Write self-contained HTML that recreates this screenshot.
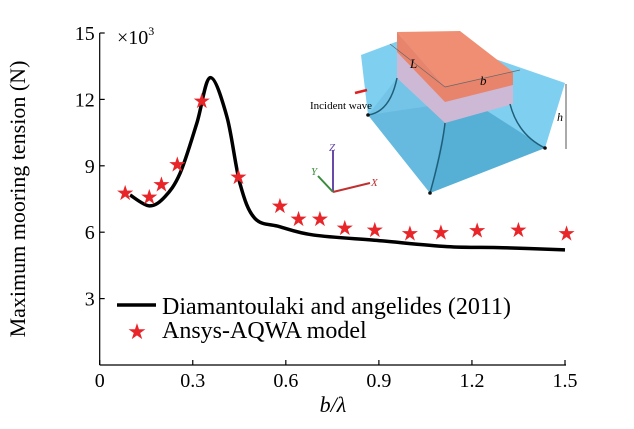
<!DOCTYPE html>
<html><head><meta charset="utf-8"><style>
body{margin:0;background:#fff;}
svg{display:block;font-family:"Liberation Serif",serif;}
</style></head><body>
<svg id="c" width="634" height="429" viewBox="0 0 634 429">
<g>
<polygon points="361,55 420,33 565,83 545,148 430,193 368,115" fill="#7fcff0"/>
<polygon points="368,115 430,193 545,148 470,100" fill="#4fa9d0" opacity="0.85"/>
<polygon points="368,115 430,193 445,123 397,78" fill="#6fbfe2" opacity="0.7"/>
<polygon points="397,32 445,87 445,123 397,78" fill="#cdb8d6"/>
<polygon points="445,87 513,72 513,104 445,123" fill="#cdb8d6"/>
<polygon points="397,32 445,87 445,102 397,52" fill="#e8846c"/>
<polygon points="445,87 513,72 513,85 445,102" fill="#e8846c"/>
<polygon points="397,32 460,31 513,72 445,87" fill="#f08e74"/>
<path d="M368,115 Q390,112 397,78 M430,193 Q442,150 445,123 M545,148 Q518,135 510,104" stroke="#1e5e78" stroke-width="1.5" fill="none"/>
<circle cx="368" cy="115" r="1.8" fill="#111"/><circle cx="430" cy="193" r="1.8" fill="#111"/><circle cx="545" cy="148" r="1.8" fill="#111"/>
<line x1="390" y1="44" x2="445" y2="87" stroke="#666" stroke-width="0.7"/>
<line x1="445" y1="87" x2="520" y2="70" stroke="#666" stroke-width="0.7"/>
<text x="410" y="68" font-size="13" font-style="italic">L</text>
<text x="480" y="85" font-size="13" font-style="italic">b</text>
<text x="557" y="121" font-size="12" font-style="italic">h</text>
<line x1="566" y1="84" x2="566" y2="149" stroke="#555" stroke-width="1"/>
<text x="310" y="109" font-size="11">Incident wave</text>
<line x1="355" y1="93" x2="367" y2="90" stroke="#e02020" stroke-width="2.5"/>
<line x1="333" y1="192" x2="333" y2="150" stroke="#6a4aa8" stroke-width="2"/>
<line x1="333" y1="192" x2="370" y2="183" stroke="#c03030" stroke-width="2"/>
<line x1="333" y1="192" x2="318" y2="176" stroke="#3a8a3a" stroke-width="2"/>
<text x="329" y="151" font-size="11" fill="#6a4aa8" font-style="italic">Z</text>
<text x="371" y="186" font-size="11" fill="#c03030" font-style="italic">X</text>
<text x="311" y="175" font-size="11" fill="#3a8a3a" font-style="italic">Y</text>
</g>
<g id="axes"></g>
<g id="marks"></g>
<g>
<line x1="117" y1="305" x2="156" y2="305" stroke="#000" stroke-width="3.5"/>
<text x="162" y="314" font-size="24">Diamantoulaki and angelides (2011)</text>
<text x="137" y="339" font-size="22" fill="#e8262a" text-anchor="middle">★</text>
<text x="162" y="338" font-size="24">Ansys-AQWA model</text>
</g>
<text x="25" y="199" font-size="22" text-anchor="middle" transform="rotate(-90 25 199)">Maximum mooring tension (N)</text>
<text x="117" y="44" font-size="20">×10<tspan font-size="12" dy="-9">3</tspan></text>
<text x="333" y="412" font-size="22" text-anchor="middle" font-style="italic">b/λ</text>
</svg>
<script>
const xTicks=[0,0.3,0.6,0.9,1.2,1.5];
const xTickLabels=["0","0.3","0.6","0.9","1.2","1.5"];
const yTicks=[3,6,9,12,15];
const yTickLabels=["3","6","9","12","15"];
const curveX=[0.098,0.16,0.21,0.259,0.313,0.356,0.41,0.452,0.50,0.58,0.69,0.90,1.12,1.3,1.5];
const curveY=[7.68,7.19,7.6,8.66,10.92,12.98,11.22,8.21,6.63,6.25,5.87,5.62,5.35,5.3,5.2];
const starX=[0.082,0.16,0.199,0.25,0.329,0.447,0.581,0.641,0.71,0.79,0.887,1.0,1.10,1.217,1.35,1.505];
const starY=[7.77,7.58,8.16,9.05,11.92,8.5,7.18,6.6,6.6,6.18,6.1,5.95,5.98,6.07,6.1,5.95];
const NS='http://www.w3.org/2000/svg';
const X0=99.7,X1=565,Y0=365,YT=33;
function sx(v){return X0+(X1-X0)*v/1.5;}
function sy(v){return Y0-(Y0-YT)*v/15;}
function mk(t,a,p){const e=document.createElementNS(NS,t);for(const k in a)e.setAttribute(k,a[k]);p.appendChild(e);return e;}
const ax=document.getElementById('axes'),mg=document.getElementById('marks');
let l=mk('line',{x1:X0,y1:Y0,x2:X1+1,y2:Y0,stroke:'#000','stroke-width':1.2},ax);


l=mk('line',{x1:X0,y1:Y0,x2:X0,y2:YT,stroke:'#000','stroke-width':1.2},ax);


xTicks.forEach((v,i)=>{const x=sx(v);
 mk('line',{x1:x,y1:Y0,x2:x,y2:Y0-5,stroke:'#000','stroke-width':1.2},ax);
 const t=mk('text',{x:x,y:Y0+22,'font-size':20,'text-anchor':'middle'},ax);t.textContent=xTickLabels[i];
 
 });
yTicks.forEach((v,i)=>{const y=sy(v);
 mk('line',{x1:X0,y1:y,x2:X0+5,y2:y,stroke:'#000','stroke-width':1.2},ax);
 const t=mk('text',{x:X0-5,y:y+7,'font-size':20,'text-anchor':'end'},ax);t.textContent=yTickLabels[i];
 
 });
const P=curveX.map((v,i)=>[sx(v),sy(curveY[i])]);
let d='M'+P[0][0]+','+P[0][1];
for(let i=0;i<P.length-1;i++){const p0=P[Math.max(0,i-1)],p1=P[i],p2=P[i+1],p3=P[Math.min(P.length-1,i+2)];
 d+=' C'+(p1[0]+(p2[0]-p0[0])/6)+','+(p1[1]+(p2[1]-p0[1])/6)+' '+(p2[0]-(p3[0]-p1[0])/6)+','+(p2[1]-(p3[1]-p1[1])/6)+' '+p2[0]+','+p2[1];}
const pth=mk('path',{d:d,fill:'none',stroke:'#000','stroke-width':3.5},mg);


starX.forEach((v,i)=>{const t=mk('text',{x:sx(v),y:sy(starY[i])+7,'font-size':21,fill:'#e8262a','text-anchor':'middle','font-family':'DejaVu Sans,sans-serif'},mg);t.textContent='★';
 
 });
</script>
</body></html>
